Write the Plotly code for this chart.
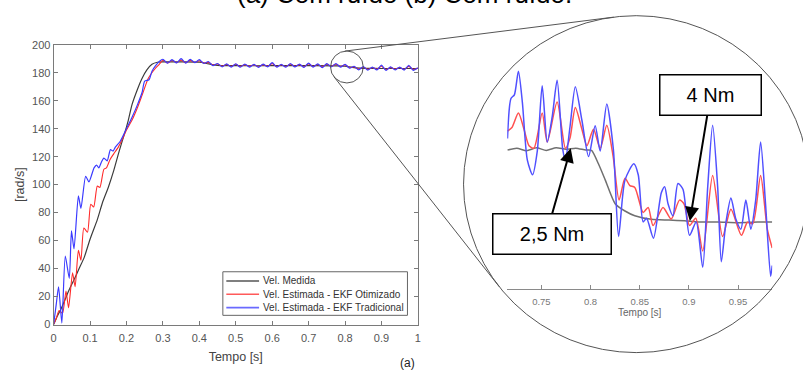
import plotly.graph_objects as go

W, H = 803, 377

# ---------------- data: main panel ----------------
black_t = [0, 0.01, 0.02, 0.03, 0.043, 0.056, 0.07, 0.084, 0.1, 0.12, 0.134, 0.15, 0.165, 0.18, 0.193,
           0.205, 0.215, 0.23, 0.243, 0.256, 0.27, 0.285, 0.3, 0.35, 0.4, 0.42, 0.44, 0.46, 0.5, 0.6,
           0.7, 0.78, 0.8, 0.82, 0.84, 0.86, 0.9, 1.0]
black_v = [0, 6, 11, 17, 25, 32, 40, 48, 61, 75, 87, 98, 110, 124, 135, 146, 157, 168, 176, 182,
           186, 187.5, 187.7, 187.7, 187.5, 186.6, 185.6, 185.1, 185, 185, 185, 184.9, 184.6, 183.8,
           183.3, 183.1, 183, 183]

blue_t_early = [0.000, 0.007, 0.0136, 0.0226, 0.032, 0.043, 0.049, 0.056, 0.068, 0.075, 0.088, 0.097,
                0.111, 0.118, 0.124, 0.131, 0.138, 0.147, 0.156, 0.163, 0.170, 0.183, 0.200, 0.215,
                0.230, 0.243, 0.250, 0.262, 0.270, 0.280, 0.290]
blue_v_early = [0, 14, 27, 1, 49, 33, 67, 54, 92, 83, 106, 102, 112, 114, 112, 116, 119, 117, 125, 124,
                127, 131, 140, 148, 157, 166, 174, 175, 181, 185, 188]

red_t_early = [0.000, 0.008, 0.015, 0.0245, 0.034, 0.041, 0.052, 0.059, 0.068, 0.075, 0.083, 0.093,
               0.102, 0.110, 0.120, 0.127, 0.138, 0.145, 0.155, 0.165, 0.178, 0.188, 0.200, 0.215,
               0.230, 0.243, 0.260, 0.279, 0.290]
red_v_early = [0, 5, 10, 8, 24, 12, 37, 27, 53, 46, 69, 66, 86, 84, 99, 98, 111, 112, 118, 122, 127,
               132, 139, 146, 155, 164, 176, 183, 186]

t_late = [0.3000, 0.3125, 0.3250, 0.3375, 0.3500, 0.3625, 0.3750, 0.3875, 0.4000, 0.4125, 0.4250,
          0.4375, 0.4500, 0.4625, 0.4750, 0.4875, 0.5000, 0.5125, 0.5250, 0.5375, 0.5500, 0.5625,
          0.5750, 0.5875, 0.6000, 0.6125, 0.6250, 0.6375, 0.6500, 0.6625, 0.6750, 0.6875, 0.7000,
          0.7125, 0.7250, 0.7375, 0.7500, 0.7625, 0.7750, 0.7875, 0.8000, 0.8125, 0.8250, 0.8375,
          0.8500, 0.8625, 0.8750, 0.8875, 0.9000, 0.9125, 0.9250, 0.9375, 0.9500, 0.9625, 0.9750,
          0.9875, 1.0000]
blue_late = [189.6, 186.8, 189.4, 187.0, 190.0, 186.9, 189.5, 187.2, 189.3, 186.6, 188.0, 185.0, 186.6,
             184.2, 186.3, 184.0, 186.4, 183.9, 186.2, 184.0, 186.0, 183.8, 186.1, 184.2, 187.2, 184.0,
             186.0, 183.9, 186.6, 184.1, 186.2, 183.8, 186.9, 184.0, 186.3, 183.6, 186.5, 184.2, 186.6,
             184.0, 186.0, 183.2, 184.6, 182.0, 184.3, 181.8, 184.0, 182.0, 185.4, 181.6, 184.2, 182.0,
             184.0, 181.9, 185.2, 181.7, 183.5]
red_late = [188.9, 187.0, 188.7, 187.2, 189.0, 187.1, 188.8, 187.3, 188.6, 186.9, 187.4, 185.5, 186.2,
            184.6, 185.9, 184.5, 186.0, 184.4, 185.8, 184.5, 185.7, 184.3, 185.8, 184.6, 186.5, 184.4,
            185.7, 184.4, 186.1, 184.5, 185.8, 184.3, 186.3, 184.4, 185.9, 184.2, 186.0, 184.5, 186.1,
            184.4, 185.6, 183.6, 184.2, 182.6, 183.9, 182.4, 183.7, 182.5, 184.6, 182.2, 183.8, 182.5,
            183.7, 182.4, 184.5, 182.3, 183.3]

x_ticks = [0, 0.1, 0.2, 0.3, 0.4, 0.5, 0.6, 0.7, 0.8, 0.9, 1]
y_ticks = [0, 20, 40, 60, 80, 100, 120, 140, 160, 180, 200]

# ---------------- data: zoomed inset ----------------
zoom_blue_t = [0.7155, 0.7190, 0.7225, 0.7266, 0.7306, 0.7357, 0.7410, 0.7458, 0.7508, 0.7559,
               0.7610, 0.7660, 0.7717, 0.7744, 0.7790, 0.7845, 0.7912, 0.7980, 0.8047, 0.8098,
               0.8165, 0.8232, 0.8285, 0.8350, 0.8440, 0.8485, 0.8535, 0.8570, 0.8640, 0.8720,
               0.8754, 0.8788, 0.8838, 0.8889, 0.8940, 0.9007, 0.9075, 0.9141, 0.9192, 0.9242,
               0.9293, 0.9330, 0.9378, 0.9428, 0.9478, 0.9529, 0.9580, 0.9630, 0.9680, 0.9730,
               0.9780, 0.9832, 0.9848]
zoom_blue_v = [185.3, 186.4, 186.5, 187.15, 186.3, 184.7, 184.3, 184.95, 186.75, 185.2,
               185.9, 186.9, 185.0, 184.7, 185.6, 186.72, 185.8, 184.8, 185.65, 184.95,
               186.25, 185.0, 182.6, 184.15, 184.6, 184.3, 183.0, 183.1, 182.55, 183.8,
               183.97, 183.5, 183.17, 184.06, 183.9, 182.63, 183.0, 181.75, 183.97, 185.66,
               183.97, 181.9, 183.0, 183.66, 183.08, 182.8, 183.6, 182.8, 183.6, 185.2,
               183.5, 181.5, 181.8]
zoom_red_t = [0.7155, 0.7200, 0.7266, 0.7323, 0.7374, 0.7424, 0.7508, 0.7559, 0.7660, 0.7744,
              0.7790, 0.7845, 0.7912, 0.7963, 0.8030, 0.8098, 0.8165, 0.8230, 0.8290, 0.8350,
              0.8400, 0.8450, 0.8535, 0.8586, 0.8636, 0.8737, 0.8820, 0.8905, 0.8950, 0.9007,
              0.9070, 0.9141, 0.9242, 0.9343, 0.9428, 0.9535, 0.9596, 0.9650, 0.9730, 0.9798,
              0.9848]
zoom_red_v = [185.5, 185.6, 186.0, 185.55, 185.1, 185.03, 186.0, 185.2, 186.3, 185.03,
              185.3, 186.15, 185.55, 185.1, 185.55, 185.03, 185.66, 184.8, 183.6, 184.2,
              184.0, 183.95, 183.26, 183.4, 182.9, 183.4, 183.08, 183.6, 183.5, 182.9,
              183.1, 182.2, 184.28, 182.6, 183.35, 182.63, 182.99, 182.95, 184.28, 182.8,
              182.28]
zoom_black_t = [0.7155, 0.7250, 0.7350, 0.7450, 0.7550, 0.7650, 0.7750, 0.7850, 0.7950, 0.8010,
                0.8080, 0.8150, 0.8250, 0.8350, 0.8450, 0.8620, 0.8800, 0.8956, 0.9100, 0.9293,
                0.9500, 0.9700, 0.9848]
zoom_black_v = [184.98, 185.03, 184.96, 185.04, 184.97, 185.04, 185.0, 185.03, 184.98, 184.97,
                184.6, 184.15, 183.5, 183.3, 183.17, 183.07, 183.05, 183.03, 183.0, 183.0,
                182.98, 183.0, 183.0]
zoom_x_ticks = [0.75, 0.8, 0.85, 0.9, 0.95]
zoom_x_labels = ["0.75", "0.8", "0.85", "0.9", "0.95"]

names = ["Vel. Medida", "Vel. Estimada - EKF Otimizado", "Vel. Estimada - EKF Tradicional"]
title_text = "(a) Com ruído (b) Com ruído."


def PX(x):
    return x / W


def PY(y):
    return 1 - y / H


FONT = "Liberation Sans, Arial, sans-serif"
AXC = "#7a7a7a"
TXC = "#555555"
main_colors = ["#3c3c3c", "#ff2a2a", "#3a3aff"]
legend_colors = ["#555555", "#ff5a5a", "#6a6aff"]

fig = go.Figure()
fig.add_trace(go.Scatter(x=black_t, y=black_v, mode="lines", name=names[0], showlegend=False,
                         line=dict(color=main_colors[0], width=1.2, shape="spline", smoothing=0.6)))
fig.add_trace(go.Scatter(x=red_t_early + t_late, y=red_v_early + red_late, mode="lines", name=names[1],
                         showlegend=False,
                         line=dict(color=main_colors[1], width=1.1, shape="spline", smoothing=0.6)))
fig.add_trace(go.Scatter(x=blue_t_early + t_late, y=blue_v_early + blue_late, mode="lines", name=names[2],
                         showlegend=False,
                         line=dict(color=main_colors[2], width=1.2, shape="spline", smoothing=0.6)))

fig.add_trace(go.Scatter(x=zoom_black_t, y=zoom_black_v, mode="lines", showlegend=False,
                         xaxis="x2", yaxis="y2", name=names[0],
                         line=dict(color="#707070", width=1.5, shape="spline", smoothing=0.6)))
fig.add_trace(go.Scatter(x=zoom_red_t, y=zoom_red_v, mode="lines", showlegend=False,
                         xaxis="x2", yaxis="y2", name=names[1],
                         line=dict(color="#ff5050", width=1.5, shape="spline", smoothing=0.7)))
fig.add_trace(go.Scatter(x=zoom_blue_t, y=zoom_blue_v, mode="lines", showlegend=False,
                         xaxis="x2", yaxis="y2", name=names[2],
                         line=dict(color="#5050ff", width=1.5, shape="spline", smoothing=0.7)))

shapes = [
    # big zoom circle
    dict(type="circle", xref="paper", yref="paper", x0=PX(638 - 174), x1=PX(638 + 174),
         y0=PY(184 + 174), y1=PY(184 - 174), line=dict(color="#555555", width=1)),
    # small circle on main plot
    dict(type="circle", xref="paper", yref="paper", x0=PX(346.5 - 16.5), x1=PX(346.5 + 16.5),
         y0=PY(63 + 16.5), y1=PY(63 - 16.5), line=dict(color="#555555", width=1)),
    # tangent connector lines
    dict(type="line", xref="paper", yref="paper", x0=PX(344.3), y0=PY(46.6), x1=PX(615.3), y1=PY(11.5),
         line=dict(color="#555555", width=1)),
    dict(type="line", xref="paper", yref="paper", x0=PX(333.4), y0=PY(73), x1=PX(500), y1=PY(290),
         line=dict(color="#555555", width=1)),
    # legend box
    dict(type="rect", xref="paper", yref="paper", x0=PX(221.5), x1=PX(407.5), y0=PY(319.5), y1=PY(274.5),
         fillcolor="#ffffff", line=dict(color="#666666", width=1), layer="above"),
]

annotations = [
    dict(text=title_text, xref="paper", yref="paper", x=PX(405), y=PY(5), xanchor="center",
         yanchor="bottom", showarrow=False, font=dict(family=FONT, size=26, color="#000000")),
    dict(text="(a)", xref="paper", yref="paper", x=PX(408), y=PY(369), xanchor="center",
         yanchor="middle", showarrow=False, font=dict(family=FONT, size=12, color="#222222")),
    # arrows
    dict(text="", xref="paper", yref="paper", x=PX(692), y=PY(222), ax=18, ay=-109,
         showarrow=True, arrowhead=2, arrowwidth=2, arrowsize=1.4, arrowcolor="#000000", standoff=0),
    dict(text="", xref="paper", yref="paper", x=PX(572), y=PY(147), ax=-19, ay=67,
         showarrow=True, arrowhead=2, arrowwidth=2, arrowsize=1.4, arrowcolor="#000000", standoff=0),
    # boxed labels
    dict(text="4 Nm", xref="paper", yref="paper", x=PX(713), y=PY(91.5), xanchor="center",
         yanchor="middle", showarrow=False, width=100, height=39, borderpad=0, bgcolor="#ffffff",
         bordercolor="#000000", borderwidth=1.5, font=dict(family=FONT, size=20, color="#000000")),
    dict(text="2,5 Nm", xref="paper", yref="paper", x=PX(553.5), y=PY(235.5), xanchor="center",
         yanchor="middle", showarrow=False, width=117, height=39, borderpad=0, bgcolor="#ffffff",
         bordercolor="#000000", borderwidth=1.5, font=dict(family=FONT, size=20, color="#000000")),
    # inset axis title
    dict(text="Tempo [s]", xref="paper", yref="paper", x=PX(642), y=PY(317), xanchor="center",
         yanchor="middle", showarrow=False, font=dict(family=FONT, size=10, color="#666666")),
]

# legend entries (sample line + text), rows in the legend box
legend_rows_y = [284, 297.7, 311.5]
for name, col, yy in zip(names, legend_colors, legend_rows_y):
    shapes.append(dict(type="line", xref="paper", yref="paper", x0=PX(225), x1=PX(258),
                       y0=PY(yy), y1=PY(yy), line=dict(color=col, width=1.6), layer="above"))
    annotations.append(dict(text=name, xref="paper", yref="paper", x=PX(260), y=PY(yy),
                            xanchor="left", yanchor="middle", showarrow=False,
                            font=dict(family=FONT, size=10, color="#333333")))

fig.update_layout(
    width=W, height=H,
    margin=dict(l=0, r=0, t=0, b=0),
    paper_bgcolor="#ffffff", plot_bgcolor="#ffffff",
    font=dict(family=FONT, color=TXC),
    showlegend=False,
    xaxis=dict(domain=[PX(51), PX(418)], range=[0, 1], tickvals=x_ticks,
               ticktext=[("%g" % v) for v in x_ticks],
               showline=True, linecolor=AXC, linewidth=1, mirror="ticks", ticks="inside", ticklen=4,
               tickcolor=AXC, showgrid=False, zeroline=False, anchor="y", ticklabelstandoff=3,
               tickfont=dict(family=FONT, size=11, color=TXC),
               title=dict(text="Tempo [s]", standoff=9, font=dict(family=FONT, size=12.5, color="#444444"))),
    yaxis=dict(domain=[PY(329), PY(40)], range=[0, 200], tickvals=y_ticks,
               showline=True, linecolor=AXC, linewidth=1, mirror="ticks", ticks="inside", ticklen=4,
               tickcolor=AXC, showgrid=False, zeroline=False, anchor="x",
               tickfont=dict(family=FONT, size=11, color=TXC),
               title=dict(text="[rad/s]", standoff=4, font=dict(family=FONT, size=12.5, color="#444444"))),
    xaxis2=dict(domain=[PX(508), PX(775)], range=[0.7152, 0.9848], anchor="y2",
                tickvals=zoom_x_ticks, ticktext=zoom_x_labels, ticklabelstandoff=4,
                showline=True, linecolor="#8a8a8a", linewidth=1, ticks="inside", ticklen=4,
                tickcolor="#8a8a8a", showgrid=False, zeroline=False,
                tickfont=dict(family=FONT, size=9.5, color="#777777")),
    yaxis2=dict(domain=[PY(292), PY(40)], range=[181.16, 187.88], anchor="x2", visible=False,
                showgrid=False, zeroline=False),
    shapes=shapes,
    annotations=annotations,
)

fig.write_html("out.html")
